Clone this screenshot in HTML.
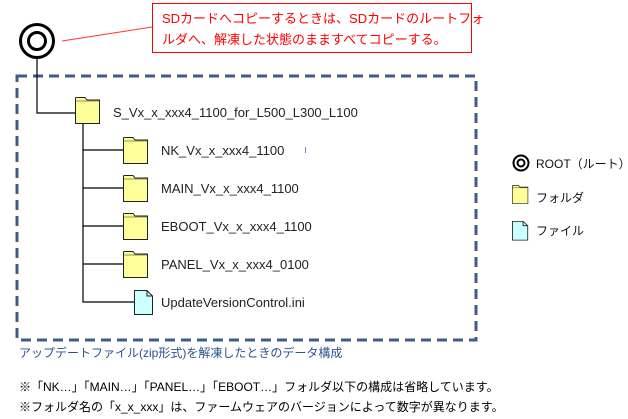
<!DOCTYPE html>
<html><head><meta charset="utf-8"><style>
body{margin:0;width:628px;height:419px;background:#fff;overflow:hidden}
svg{position:absolute;left:0;top:0}
text{font-family:"Liberation Sans","Noto Sans CJK JP",sans-serif}
</style></head><body>
<svg width="628" height="419" viewBox="0 0 628 419">
<defs>
<g id="fold"><path d="M0.5,3.5 L0.5,1 Q0.5,0.5 1.5,0.5 L10,0.5 L12,3 L24.5,3 L24.5,26.5 L0.5,26.5 Z" fill="#ffff99" stroke="#222" stroke-width="1"/><path d="M0.5,4 L24.5,4" stroke="#222" stroke-width="0.6" fill="none"/></g>
<g id="file"><path d="M0.5,0.5 L13,0.5 L18.5,6 L18.5,24.5 L0.5,24.5 Z" fill="#ccffff" stroke="#222" stroke-width="1"/><path d="M13,0.5 L13,6 L18.5,6" fill="none" stroke="#222" stroke-width="1"/></g>
</defs>
<rect x="17" y="76" width="459" height="264" fill="none" stroke="#3d5d8a" stroke-width="3" stroke-dasharray="10,6"/>
<circle cx="37" cy="41" r="16.5" fill="#fff" stroke="#000" stroke-width="3"/>
<circle cx="37" cy="41" r="8.5" fill="#fff" stroke="#000" stroke-width="3"/>
<line x1="62" y1="41" x2="152" y2="27" stroke="#ff3333" stroke-width="1"/>
<rect x="152.5" y="3.5" width="319" height="49" fill="#fff" stroke="#ff0000" stroke-width="1"/>
<text x="162" y="23" font-size="13" fill="#ff0000">SDカードへコピーするときは、SDカードのルートフォ</text>
<text x="162" y="44" font-size="13" fill="#ff0000">ルダへ、解凍した状態のまますべてコピーする。</text>
<path d="M37,58 L37,113 L75,113" fill="none" stroke="#000" stroke-width="1.2"/>
<use href="#fold" x="75" y="97"/>
<text x="113" y="117" font-size="13" fill="#222">S_Vx_x_xxx4_1100_for_L500_L300_L100</text>
<path d="M83,124 L83,302 L134,302 M83,150 L123,150 M83,188 L123,188 M83,226 L123,226 M83,264 L123,264" fill="none" stroke="#000" stroke-width="1.2"/>
<use href="#fold" x="123" y="137"/>
<use href="#fold" x="123" y="175"/>
<use href="#fold" x="123" y="213"/>
<use href="#fold" x="123" y="251"/>
<use href="#file" x="134" y="290"/>
<text x="161" y="155" font-size="13" fill="#222">NK_Vx_x_xxx4_1100</text>
<text x="161" y="193" font-size="13" fill="#222">MAIN_Vx_x_xxx4_1100</text>
<text x="161" y="231" font-size="13" fill="#222">EBOOT_Vx_x_xxx4_1100</text>
<text x="161" y="269" font-size="13" fill="#222">PANEL_Vx_x_xxx4_0100</text>
<text x="161" y="307" font-size="13" fill="#222">UpdateVersionControl.ini</text>
<line x1="305.5" y1="147" x2="305.5" y2="153" stroke="#6a8ab5" stroke-width="1"/>
<circle cx="521" cy="163" r="7.5" fill="#fff" stroke="#000" stroke-width="2"/>
<circle cx="521" cy="163" r="3.5" fill="#fff" stroke="#000" stroke-width="2"/>
<text x="536" y="168" font-size="12" fill="#111">ROOT（ルート）</text>
<g transform="translate(512,185) scale(0.65,0.7)"><use href="#fold"/></g>
<text x="536" y="202" font-size="12" fill="#111">フォルダ</text>
<g transform="translate(512,221) scale(0.85,0.78)"><use href="#file"/></g>
<text x="536" y="235" font-size="12" fill="#111">ファイル</text>
<text x="19" y="357" font-size="12" fill="#2f5090">アップデートファイル(zip形式)を解凍したときのデータ構成</text>
<text x="19" y="391" font-size="12" fill="#000">※「NK…」「MAIN…」「PANEL…」「EBOOT…」フォルダ以下の構成は省略しています。</text>
<text x="19" y="411" font-size="12" fill="#000">※フォルダ名の「x_x_xxx」は、ファームウェアのバージョンによって数字が異なります。</text>
</svg>
</body></html>
